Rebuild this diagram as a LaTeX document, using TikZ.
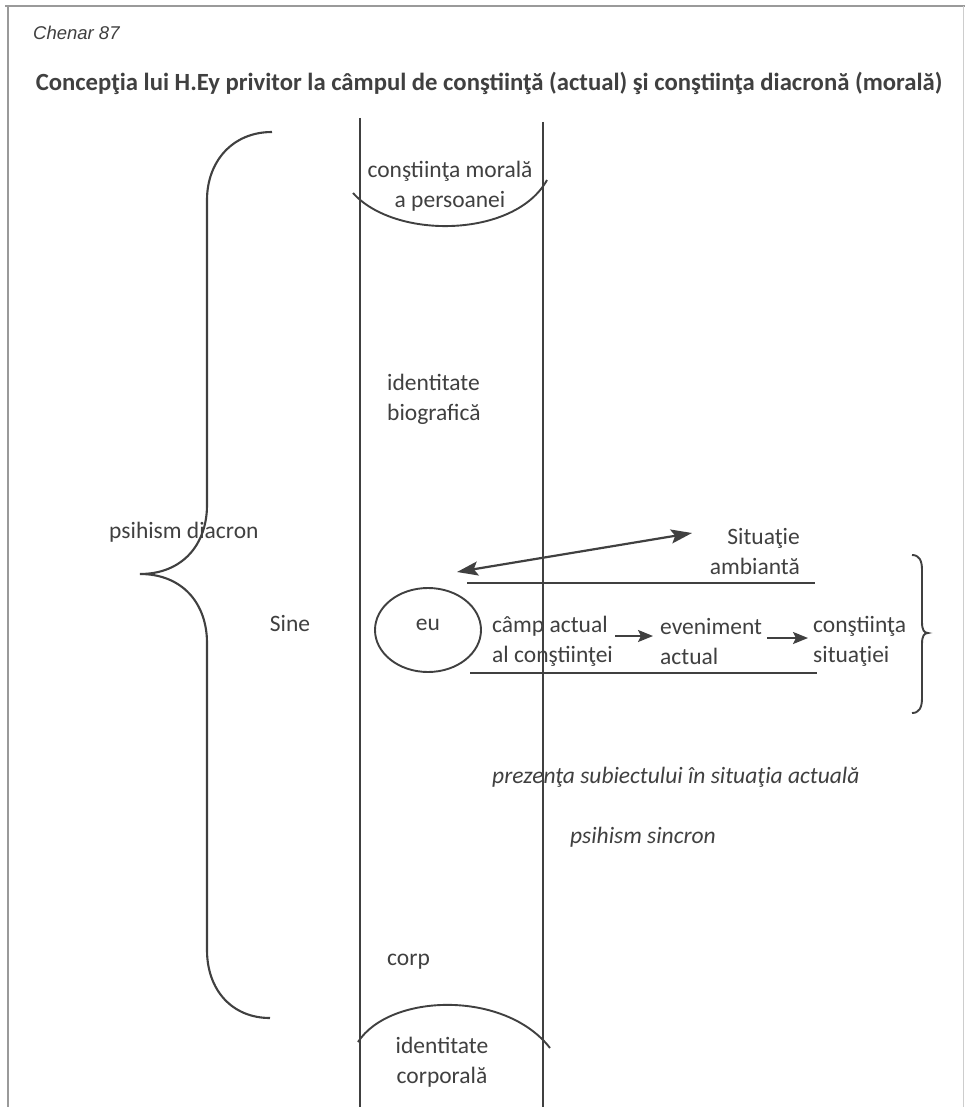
\documentclass[tikz,border=0pt]{standalone}
\usepackage{fontspec}
\setmainfont{Carlito}
\newfontfamily\arialfont{Liberation Sans}
\usetikzlibrary{arrows.meta,shapes.geometric}
\definecolor{ink}{HTML}{404040}
\definecolor{frame}{HTML}{9A9A9A}
\tikzset{
  lbl/.style={font=\fontsize{23.5}{30}\selectfont, text=ink, inner sep=0pt, align=left},
  ilbl/.style={lbl, font=\fontsize{23.5}{30}\selectfont\itshape},
  stroke/.style={draw=ink, line width=1.9pt},
  brace/.style={draw=ink, line width=2.1pt},
  smalltip/.style={-{Stealth[length=15pt,width=12pt,inset=3pt]}},
  bigtips/.style={{Stealth[length=21pt,width=14pt,inset=4pt]}-{Stealth[length=21pt,width=14pt,inset=4pt]}},
}
\begin{document}
\begin{tikzpicture}[x=1pt,y=-1pt]
\useasboundingbox (0,0) rectangle (965,1107);
\fill[white] (0,0) rectangle (965,1107);

% box outline
\draw[frame, line width=1.6pt] (5,6) -- (965,6);
\draw[frame, line width=1.6pt] (8,6) -- (8,1107);
\draw[frame!50, line width=1pt] (963,6) -- (963,1107);

% heading
\node[anchor=west, inner sep=0pt, text=ink, font=\arialfont\itshape\fontsize{18.5}{22}\selectfont] (chenar) at (33,33) {Chenar 87};
\node[inner sep=0pt, text=ink, font=\bfseries\fontsize{24.7}{30}\selectfont] (title) at (489,83)
  {Concepţia lui H.Ey privitor la câmpul de conştiinţă (actual) şi conştiinţa diacronă (morală)};

% the two vertical bounds of the self
\coordinate (lt) at (360,118);
\coordinate (lb) at (360,1107);
\coordinate (rt) at (543,122);
\coordinate (rb) at (543,1107);
\draw[stroke] (lt) -- (lb);
\draw[stroke] (rt) -- (rb);

% upper cup: moral conscience
\node[lbl, align=center] (moral) at (450,186) {conştiinţa morală\\a persoanei};
\draw[stroke] (353,193) .. controls (395,240) and (515,238) .. (547,180);

% lower cap: bodily identity
\node[lbl, align=center] (corporala) at (442,1062) {identitate\\corporală};
\draw[stroke] (358,1042) .. controls (390,993) and (505,990) .. (550,1048);

\node[lbl, anchor=west] (bio) at (387,399) {identitate\\biografică};
\node[lbl, anchor=west] (corp) at (387,962) {corp};

% diachronic psychism brace
\draw[brace] (272,132) .. controls (232,132) and (207,162) .. (207,200)
  -- (207,505) .. controls (207,545) and (182,574) .. (140,574)
  .. controls (182,574) and (207,603) .. (207,643)
  -- (207,950) .. controls (207,990) and (232,1018) .. (270,1018);
\node[lbl, anchor=west] (diacron) at (109,532) {psihism diacron};

\node[lbl] (sine) at (290,623) {Sine};

% the ego
\node[ellipse, stroke, minimum width=106pt, minimum height=84pt, inner sep=0pt] (eu) at (428,630) {};
\node[lbl] (eutxt) at (428,625) {eu};

% ambient situation
\node[lbl, anchor=east, align=right] (amb) at (800,551) {Situaţie\\ambiantă};
\coordinate (ea) at (457,572);
\coordinate (sa) at (692,533);
\draw[draw=ink, line width=2.2pt, bigtips] (ea) -- (sa);

% actual field between the two rules
\coordinate (u1) at (467,583);
\coordinate (u2) at (815,583);
\coordinate (d1) at (470,673);
\coordinate (d2) at (817,673);
\draw[stroke] (u1) -- (u2);
\draw[stroke] (d1) -- (d2);

\node[lbl, anchor=west] (camp) at (492,641) {câmp actual\\al conştiinţei};
\node[lbl, anchor=west] (even) at (660,641) {eveniment\\actual};
\node[lbl, anchor=west] (sit) at (813,641) {conştiinţa\\situaţiei};
\draw[draw=ink, line width=2.2pt, smalltip] (615,636) -- (653,636);
\draw[draw=ink, line width=2.2pt, smalltip] (767,638) -- (808,638);

% synchronic brace
\draw[draw=ink, line width=1.9pt] (912,555) .. controls (919,555) and (922,560) .. (922,570)
  -- (922,622) .. controls (922,630) and (924,633) .. (928,633)
  .. controls (924,633) and (922,636) .. (922,644)
  -- (922,698) .. controls (922,708) and (919,713) .. (912,713);

\node[ilbl, anchor=west] (prez) at (492,777) {prezenţa subiectului în situaţia actuală};
\node[ilbl, anchor=west] (sincron) at (570,837) {psihism sincron};
\end{tikzpicture}
\end{document}
